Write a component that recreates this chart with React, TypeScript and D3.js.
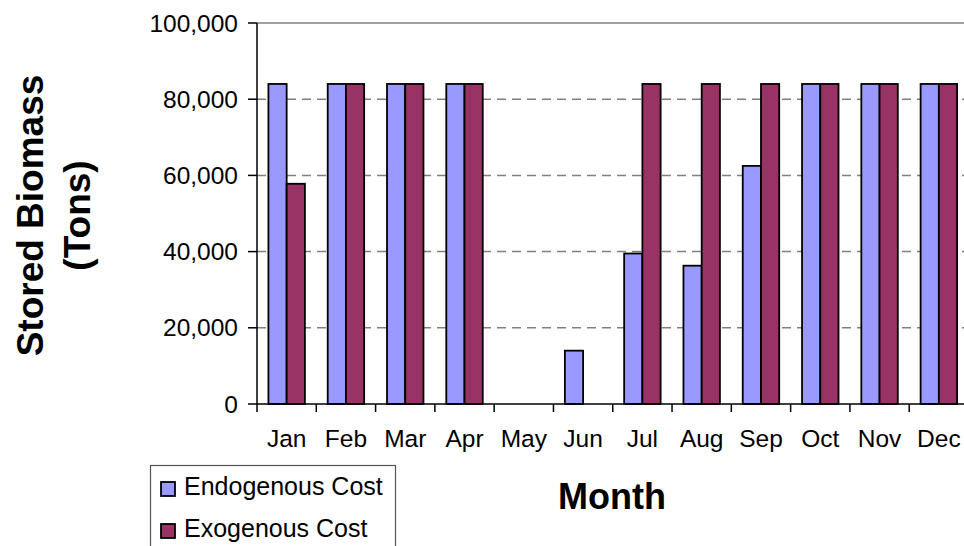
import React, { useEffect, useRef } from 'react';
import * as d3 from 'd3';

const months = ['Jan', 'Feb', 'Mar', 'Apr', 'May', 'Jun', 'Jul', 'Aug', 'Sep', 'Oct', 'Nov', 'Dec'];
const endogenous = [84000, 84000, 84000, 84000, 0, 14000, 39500, 36300, 62500, 84000, 84000, 84000];
const exogenous = [57800, 84000, 84000, 84000, 0, 0, 84000, 84000, 84000, 84000, 84000, 84000];
const seriesNames = ['Endogenous Cost', 'Exogenous Cost'];
const seriesColors = ['#9999FF', '#993366'];
const yTicks = [0, 20000, 40000, 60000, 80000, 100000];

const W = 964;
const H = 546;

const App: React.FC = () => {
  const svgRef = useRef<SVGSVGElement>(null);

  useEffect(() => {
    if (!svgRef.current) return;
    const svg = d3.select(svgRef.current);
    svg.selectAll('*').remove();

    const font = 'Arial, "Liberation Sans", sans-serif';
    const x = d3.scaleBand<string>().domain(months).range([257, 968.5]).padding(0);
    const y = d3.scaleLinear().domain([0, 100000]).range([404, 23]);

    const groupW = x.bandwidth() * 0.615;
    const sub = d3.scaleBand<number>().domain([0, 1]).range([0, groupW]);

    // gridlines
    svg.append('g')
      .selectAll('line')
      .data(yTicks.filter(t => t > 0))
      .enter().append('line')
      .attr('x1', 257)
      .attr('x2', W)
      .attr('y1', d => y(d))
      .attr('y2', d => y(d))
      .attr('stroke', '#808080')
      .attr('stroke-width', 1.5)
      .attr('stroke-dasharray', d => (d === 100000 ? null : '9,6')) as any;

    // bars
    const rows = months.map((m, i) => ({ m, vals: [endogenous[i], exogenous[i]] }));
    const g = svg.append('g')
      .selectAll('g')
      .data(rows)
      .enter().append('g')
      .attr('transform', d => `translate(${(x(d.m) as number) + (x.bandwidth() - groupW) / 2},0)`);

    g.selectAll('rect')
      .data(d => d.vals.map((v, k) => ({ v, k })))
      .enter().append('rect')
      .filter(d => d.v > 0)
      .attr('x', d => sub(d.k) as number)
      .attr('width', sub.bandwidth())
      .attr('y', d => y(d.v))
      .attr('height', d => y(0) - y(d.v))
      .attr('fill', d => seriesColors[d.k])
      .attr('stroke', '#000')
      .attr('stroke-width', 1.8);

    // y axis
    svg.append('line')
      .attr('x1', 257).attr('x2', 257)
      .attr('y1', y(100000)).attr('y2', y(0))
      .attr('stroke', '#000').attr('stroke-width', 1.5);
    svg.append('g')
      .selectAll('line')
      .data(yTicks)
      .enter().append('line')
      .attr('x1', 248).attr('x2', 257)
      .attr('y1', d => y(d)).attr('y2', d => y(d))
      .attr('stroke', '#000').attr('stroke-width', 1.5);
    svg.append('g')
      .selectAll('text')
      .data(yTicks)
      .enter().append('text')
      .attr('x', 238)
      .attr('y', d => y(d) + 8.5)
      .attr('text-anchor', 'end')
      .style('font-family', font)
      .style('font-size', '24.5px')
      .text(d => d3.format(',')(d));

    // x axis
    svg.append('line')
      .attr('x1', 257).attr('x2', W)
      .attr('y1', y(0)).attr('y2', y(0))
      .attr('stroke', '#000').attr('stroke-width', 1.5);
    svg.append('g')
      .selectAll('line')
      .data(months)
      .enter().append('line')
      .attr('x1', d => x(d) as number).attr('x2', d => x(d) as number)
      .attr('y1', y(0)).attr('y2', y(0) + 8)
      .attr('stroke', '#000').attr('stroke-width', 1.5);
    svg.append('g')
      .selectAll('text')
      .data(months)
      .enter().append('text')
      .attr('x', d => (x(d) as number) + x.bandwidth() / 2)
      .attr('y', 447)
      .attr('text-anchor', 'middle')
      .style('font-family', font)
      .style('font-size', '24.5px')
      .text(d => d);

    // axis titles
    const yt = svg.append('text')
      .attr('transform', 'translate(43,215.5) rotate(-90)')
      .attr('text-anchor', 'middle')
      .style('font-family', font)
      .style('font-size', '37px')
      .style('font-weight', 'bold');
    yt.append('tspan').attr('x', 0).attr('y', 0).text('Stored Biomass');
    yt.append('tspan').attr('x', 0).attr('y', 47).text('(Tons)');

    svg.append('text')
      .attr('x', 612)
      .attr('y', 509)
      .attr('text-anchor', 'middle')
      .style('font-family', font)
      .style('font-size', '36px')
      .style('font-weight', 'bold')
      .text('Month');

    // legend
    svg.append('rect')
      .attr('x', 150.5).attr('y', 465.5)
      .attr('width', 245).attr('height', 100)
      .attr('fill', '#fff')
      .attr('stroke', '#555').attr('stroke-width', 1.2);
    const leg = svg.append('g')
      .selectAll('g')
      .data(seriesNames)
      .enter().append('g')
      .attr('transform', (d, i) => `translate(161,${482 + i * 42})`);
    leg.append('rect')
      .attr('width', 14).attr('height', 14)
      .attr('fill', (d, i) => seriesColors[i])
      .attr('stroke', '#000').attr('stroke-width', 1.8);
    leg.append('text')
      .attr('x', 23).attr('y', 13)
      .style('font-family', font)
      .style('font-size', '25px')
      .text(d => d);
  }, []);

  return (
    <div>
      <style>{'body{margin:0;background:#fff}'}</style>
      <svg ref={svgRef} width={W} height={H} style={{ display: 'block' }} />
    </div>
  );
};

export default App;
